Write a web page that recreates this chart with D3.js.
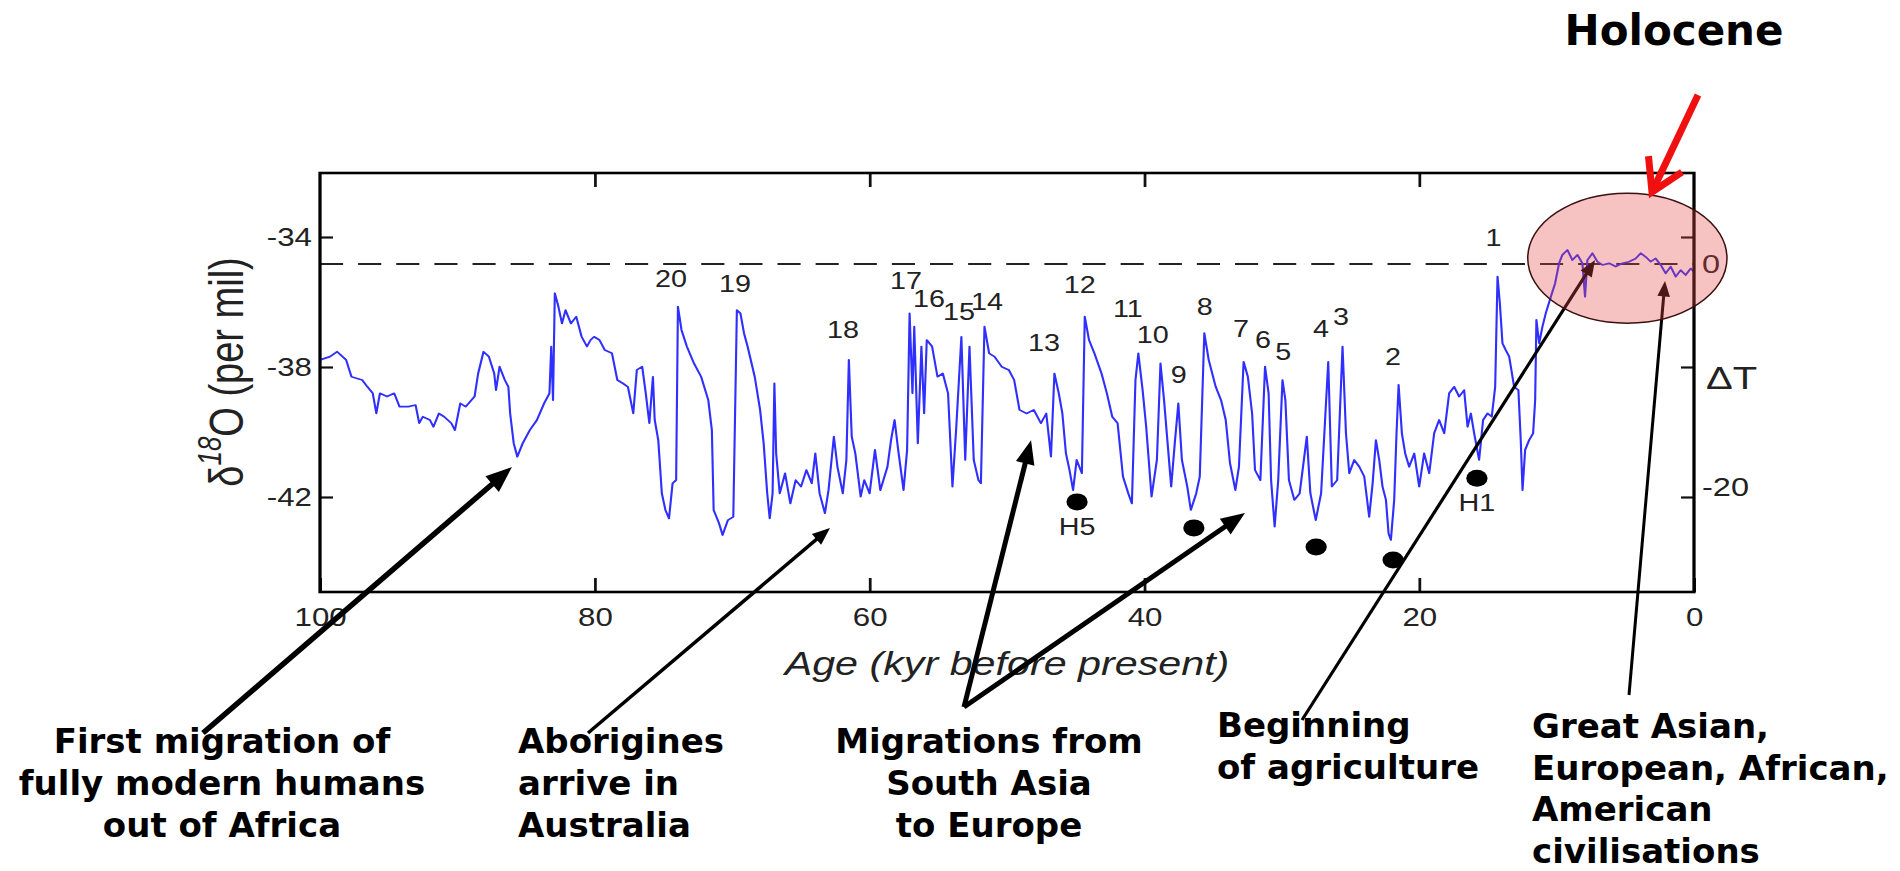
<!DOCTYPE html>
<html>
<head>
<meta charset="utf-8">
<script src="https://cdn.jsdelivr.net/npm/d3@7"></script>
<style>
  body { margin: 0; background: #fff; }
  svg { display: block; }
  .chart text { font-family: "Liberation Sans", Arial, Helvetica, sans-serif; fill: #222; }
  .note { font-family: "DejaVu Sans", Verdana, sans-serif; font-weight: bold; font-size: 34px; fill: #000; }
</style>
</head>
<body>
<script>
// ice core record (age in kyr before present, d18O per mil)
const ageKyr = [
  100.0, 99.27, 98.75, 98.10, 97.71, 96.93, 96.55, 96.16, 95.90, 95.64,
  95.12, 94.60, 94.21, 93.56, 93.04, 92.78, 92.52, 92.00, 91.74, 91.35,
  90.96, 90.44, 90.18, 89.79, 89.40, 88.75, 88.49, 88.10, 87.71, 87.32,
  87.19, 86.93, 86.55, 86.29, 86.16, 85.90, 85.64, 85.25, 84.73, 84.21,
  83.69, 83.30, 83.17, 83.04, 82.91, 82.65, 82.39, 82.13, 81.74, 81.35,
  80.96, 80.57, 80.31, 80.05, 79.66, 79.27, 78.75, 78.36, 77.97, 77.59,
  77.20, 76.94, 76.55, 76.29, 76.03, 75.77, 75.64, 75.38, 75.12, 74.86,
  74.60, 74.34, 74.08, 73.95, 73.69, 73.30, 72.78, 72.26, 71.74, 71.48,
  71.35, 70.96, 70.70, 70.31, 69.92, 69.66, 69.40, 69.14, 68.88, 68.36,
  67.97, 67.71, 67.45, 67.27, 67.06, 66.93, 66.80, 66.54, 66.15, 65.77,
  65.38, 64.99, 64.60, 64.21, 63.95,
  63.64, 63.25, 62.99, 62.60, 62.34, 61.95, 61.69, 61.51, 61.30, 61.04,
  60.65, 60.39, 60.00, 59.61, 59.22, 58.70, 58.44, 58.18, 57.92, 57.53,
  57.27, 57.09, 56.88, 56.75, 56.49, 56.23, 56.03, 55.84, 55.45, 55.06,
  54.67, 54.29, 53.97, 53.69, 53.32, 53.04, 52.73, 52.42, 52.08, 51.90,
  51.64, 51.30, 50.91, 50.39, 49.87, 49.48, 49.09, 48.57, 48.05, 47.53,
  47.14, 46.80, 46.55, 46.23, 45.97, 45.71, 45.45, 45.19, 44.93, 44.55,
  44.34, 44.03, 43.64, 43.12, 42.73, 42.34, 41.95, 41.56, 41.17, 40.91,
  40.65, 40.44, 40.13, 39.87, 39.48, 39.09, 38.83, 38.57, 38.31, 38.05,
  37.79, 37.53, 37.27, 36.88, 36.62, 36.23, 35.97, 35.64, 35.32, 34.81,
  34.42, 34.08, 33.77, 33.38, 33.12, 32.78, 32.47, 32.16, 31.95, 31.56,
  31.22, 30.96, 30.78, 30.52, 30.26, 29.95, 29.74, 29.48, 29.09, 28.70,
  28.18, 27.92, 27.53, 27.14, 26.62, 26.36, 25.97, 25.58,
  25.33, 25.09, 24.73, 24.36, 24.00, 23.64, 23.39, 23.15, 22.91, 22.67,
  22.42, 22.23, 22.06, 21.82, 21.65, 21.50, 21.26, 21.02, 20.73, 20.36,
  20.00, 19.64, 19.27, 18.91, 18.55, 18.18, 17.82, 17.45, 17.09, 16.73,
  16.48, 16.24, 16.00, 15.64, 15.35, 15.03, 14.72, 14.47, 14.30, 14.13,
  13.94, 13.70, 13.45, 13.09, 12.78, 12.61, 12.48, 12.29, 12.00, 11.71,
  11.56, 11.47, 11.27, 11.03, 10.79, 10.42, 10.11, 9.82, 9.58, 9.21,
  8.85, 8.48, 8.12, 7.93, 7.76, 7.39, 7.03, 6.67, 6.18, 5.70,
  5.21, 4.73, 4.24, 3.88, 3.52, 3.15, 2.79, 2.42, 2.06, 1.70,
  1.33, 0.97, 0.61, 0.24, 0.00
];
const d18O = [
  -37.78, -37.68, -37.53, -37.78, -38.30, -38.40, -38.61, -38.81, -39.43, -38.81,
  -38.91, -38.81, -39.22, -39.22, -39.17, -39.73, -39.53, -39.63, -39.84, -39.43,
  -39.53, -39.73, -39.94, -39.12, -39.22, -38.91, -38.20, -37.53, -37.68, -38.20,
  -38.71, -37.99, -38.40, -38.61, -39.43, -40.35, -40.76, -40.35, -39.94, -39.63,
  -39.12, -38.81, -37.37, -39.02, -35.73, -36.14, -36.66, -36.25, -36.66, -36.45,
  -37.07, -37.37, -37.17, -37.07, -37.17, -37.48, -37.58, -38.40, -38.50, -38.61,
  -39.43, -38.09, -37.99, -38.81, -39.73, -38.30, -39.63, -40.25, -41.89, -42.40,
  -42.66, -41.58, -41.48, -36.14, -36.86, -37.37, -37.89, -38.30, -39.02, -39.94,
  -42.40, -42.81, -43.17, -42.71, -42.61, -36.25, -36.35, -36.96, -37.37, -38.30,
  -39.32, -40.35, -41.89, -42.66, -41.89, -38.50, -40.66, -41.89, -41.27, -42.20,
  -41.48, -41.68, -41.17, -41.58, -40.66,
  -41.89, -42.50, -41.79, -40.14, -41.07, -41.89, -40.86, -37.78, -40.14, -40.66,
  -41.99, -41.48, -41.89, -40.55, -41.79, -41.07, -40.25, -39.63, -40.55, -41.79,
  -40.55, -36.35, -38.81, -36.76, -40.35, -37.37, -39.43, -37.17, -37.37, -38.30,
  -38.20, -38.81, -41.68, -39.84, -37.07, -40.86, -37.37, -40.86, -41.48, -41.58,
  -36.76, -37.58, -37.68, -37.99, -38.09, -38.40, -39.32, -39.43, -39.32, -39.73,
  -39.43, -40.76, -38.20, -38.81, -39.43, -40.66, -41.17, -41.79, -40.86, -41.27,
  -36.45, -37.17, -37.58, -38.20, -38.81, -39.53, -39.73, -41.37, -41.89, -42.20,
  -38.40, -37.58, -38.71, -39.84, -41.99, -40.86, -37.89, -39.02, -40.35, -41.68,
  -40.35, -39.12, -40.86, -41.68, -42.40, -41.89, -41.37, -36.96, -37.78, -38.61,
  -39.02, -39.63, -40.96, -41.79, -41.07, -37.84, -38.30, -39.43, -41.17, -41.48,
  -37.99, -38.81, -41.48, -42.91, -41.48, -38.40, -39.02, -41.48, -42.09, -41.89,
  -40.14, -41.89, -42.71, -41.89, -37.84, -41.68, -41.48, -37.37,
  -40.04, -41.27, -40.86, -41.07, -41.37, -42.61, -41.58, -40.25, -40.86, -41.68,
  -42.09, -43.12, -43.32, -42.09, -40.04, -38.55, -40.04, -40.66, -41.07, -40.66,
  -41.68, -40.66, -41.27, -40.04, -39.63, -40.04, -38.81, -38.61, -38.91, -38.71,
  -39.84, -39.43, -40.04, -40.86, -39.63, -39.43, -39.53, -38.61, -35.22, -36.04,
  -37.27, -37.48, -37.68, -38.61, -38.71, -40.25, -41.79, -40.55, -40.25, -40.04,
  -39.02, -36.55, -37.27, -36.76, -36.35, -35.84, -35.43, -34.81, -34.55, -34.40,
  -34.71, -34.55, -34.81, -35.84, -34.71, -34.50, -34.76, -34.86, -34.81, -34.91,
  -34.81, -34.76, -34.66, -34.50, -34.61, -34.76, -34.66, -34.86, -35.12, -34.91,
  -35.22, -35.02, -35.17, -34.97, -35.07
];

// interstadial numbers (label position in age / d18O)
const doNames  = ["20","19","18","17","16","15","14","13","12","11","10","9","8","7","6","5","4","3","2","1"];
const doAges   = [74.45, 69.8, 61.94, 57.35, 55.68, 53.5, 51.46, 47.3, 44.7, 41.2, 39.4, 37.5, 35.6, 32.97, 31.37, 29.9, 27.15, 25.7, 21.9, 14.6];
const doLevels = [-35.54, -35.69, -37.11, -35.6, -36.15, -36.55, -36.25, -37.5, -35.72, -36.46, -37.26, -38.49, -36.4, -37.08, -37.42, -37.78, -37.08, -36.71, -37.94, -34.28];

// Heinrich events
const hNames  = ["H5", "", "", "", "H1"];
const hAges   = [44.9, 36.4, 27.5, 21.9, 15.8];
const hLevels = [-42.15, -42.95, -43.54, -43.94, -41.42];

const ageTicks = [100, 80, 60, 40, 20, 0];
const d18Ticks = [-34, -38, -42];
const tempTicks = [0, -20];
const tempLevels = [-34.83, -41.69];   // d18O matching those dT ticks
const holoceneLevel = -34.83;          // dashed line, dT = 0

// holocene highlight (age span, d18O span)
const holoAges = [12.1, -2.4];
const holoLevels = [-32.65, -36.65];

// arrow targets on the record
const arrowAges   = [86.03, 62.88, 48.25, 32.68, 7.2, 2.11];
const arrowLevels = [-41.08, -42.95, -40.25, -42.49, -34.71, -35.35];

const noteLines = [
  ["First migration of", "fully modern humans", "out of Africa"],
  ["Aborigines", "arrive in", "Australia"],
  ["Migrations from", "South Asia", "to Europe"],
  ["Beginning", "of agriculture"],
  ["Great Asian,", "European, African,", "American", "civilisations"]
];

// ---- layout ----
const W = 1900, H = 871;
const SX = 1.25;   // the figure is stretched sideways
const frame = { left: 320, right: 1694, top: 173, bottom: 592 };
const noteLayout = [
  { x: 222, y: 753, anchor: "middle", lh: 42 },
  { x: 518, y: 753, anchor: "start", lh: 42 },
  { x: 989, y: 753, anchor: "middle", lh: 42 },
  { x: 1217, y: 737, anchor: "start", lh: 42 },
  { x: 1532, y: 738, anchor: "start", lh: 41.5 }
];
const arrowFrom = [[203, 733], [588, 733], [964, 707], [964, 707], [1302, 720], [1629, 695]];
const arrowWidth = [5.5, 3.5, 5, 5, 3.2, 3];

const svg = d3.select("body").append("svg")
  .attr("width", W).attr("height", H)
  .style("background", "#fff");

const x = d3.scaleLinear().domain([100, 0]).range([frame.left / SX, frame.right / SX]);
const y = d3.scaleLinear().domain([-34, -42]).range([237, 497]);
const t = d3.scaleLinear().domain(tempTicks).range(tempLevels.map(y));
const sx = a => x(a) * SX;
const plain = d => String(d);   // keep the ascii hyphen as in the source

const g = svg.append("g").attr("class", "chart").attr("transform", `scale(${SX},1)`);

function styleAxis(sel, size) {
  sel.select(".domain").remove();
  sel.selectAll(".tick line").attr("stroke", "#111").attr("stroke-width", 2.2);
  sel.selectAll(".tick text").attr("font-size", size).attr("font-family", null).attr("fill", "#222");
  sel.attr("font-family", null);
}

g.append("g").attr("transform", `translate(0,${frame.bottom})`)
  .call(d3.axisBottom(x).tickValues(ageTicks).tickSize(-14).tickPadding(16).tickFormat(plain))
  .call(s => styleAxis(s, 25));
g.append("g").attr("transform", `translate(0,${frame.top})`)
  .call(d3.axisTop(x).tickValues(ageTicks.slice(1, -1)).tickSize(-14).tickFormat(""))
  .call(s => styleAxis(s, 25));
g.append("g").attr("transform", `translate(${x(100)},0)`)
  .call(d3.axisLeft(y).tickValues(d18Ticks).tickSize(-10.4).tickPadding(6.4).tickFormat(plain))
  .call(s => styleAxis(s, 25));
g.append("g").attr("transform", `translate(${x(0)},0)`)
  .call(d3.axisRight(y).tickValues(d18Ticks).tickSize(-10.4).tickFormat(""))
  .call(s => styleAxis(s, 25));
g.append("g").attr("transform", `translate(${x(0)},0)`)
  .call(d3.axisRight(t).tickValues(tempTicks).tickSize(0).tickPadding(6.4).tickFormat(plain))
  .call(s => styleAxis(s, 26));

g.append("text")
  .attr("x", x(0) + 12 / SX).attr("y", t(-10.2))
  .attr("dominant-baseline", "central")
  .attr("font-size", 32)
  .text("ΔT");

// dashed reference line
g.append("line")
  .attr("x1", x(100)).attr("x2", x(0))
  .attr("y1", y(holoceneLevel)).attr("y2", y(holoceneLevel))
  .attr("stroke", "#222").attr("stroke-width", 2)
  .attr("stroke-dasharray", "18.5 12");

// record
const line = d3.line().x(d => x(d[0])).y(d => y(d[1]));
g.append("path")
  .datum(d3.zip(ageKyr, d18O))
  .attr("d", line)
  .attr("fill", "none")
  .attr("stroke", "#2f2fff")
  .attr("stroke-width", 1.7)
  .attr("stroke-linejoin", "round");

// frame
g.append("rect")
  .attr("x", x(100)).attr("y", frame.top)
  .attr("width", x(0) - x(100)).attr("height", frame.bottom - frame.top)
  .attr("fill", "none").attr("stroke", "#000").attr("stroke-width", 2.6);

// numbers
g.selectAll(".do").data(doNames).join("text")
  .attr("class", "do")
  .attr("x", (d, i) => x(doAges[i])).attr("y", (d, i) => y(doLevels[i]))
  .attr("text-anchor", "middle").attr("font-size", 23)
  .text(d => d);

g.selectAll(".hdot").data(hNames).join("circle")
  .attr("class", "hdot")
  .attr("cx", (d, i) => x(hAges[i])).attr("cy", (d, i) => y(hLevels[i]))
  .attr("r", 8.5).attr("fill", "#000");
g.selectAll(".hname").data(hNames).join("text")
  .attr("class", "hname")
  .attr("x", (d, i) => x(hAges[i])).attr("y", (d, i) => y(hLevels[i]) + 33)
  .attr("text-anchor", "middle").attr("font-size", 23).attr("fill", "#333")
  .text(d => d);

// axis titles
g.append("text")
  .attr("x", x(50)).attr("y", 675)
  .attr("text-anchor", "middle")
  .attr("font-size", 33).attr("font-style", "italic").attr("fill", "#333")
  .text("Age (kyr before present)");

const yl = g.append("text")
  .attr("transform", `translate(${226 / SX},372) rotate(-90)`)
  .attr("text-anchor", "middle").attr("dominant-baseline", "central")
  .attr("font-size", 38).attr("fill", "#333");
yl.append("tspan").text("δ");
yl.append("tspan").attr("font-size", 26).attr("font-style", "italic").attr("dy", -14).text("18");
yl.append("tspan").attr("dy", 14).text("O (per mil)");

// ---- slide annotations (screen space) ----
const ann = svg.append("g");
arrowFrom.forEach((s, i) => {
  const tip = [sx(arrowAges[i]), y(arrowLevels[i])];
  const w = arrowWidth[i];
  const dx = tip[0] - s[0], dy = tip[1] - s[1];
  const len = Math.hypot(dx, dy);
  const ux = dx / len, uy = dy / len;
  const L = 4.2 * w + 3, hw = 1.6 * w + 1.5;
  const bx = tip[0] - ux * L, by = tip[1] - uy * L;
  ann.append("line")
    .attr("x1", s[0]).attr("y1", s[1])
    .attr("x2", bx + ux).attr("y2", by + uy)
    .attr("stroke", "#000").attr("stroke-width", w);
  ann.append("path")
    .attr("d", `M${tip[0]},${tip[1]}L${bx - uy * hw},${by + ux * hw}L${bx + uy * hw},${by - ux * hw}Z`)
    .attr("fill", "#000");
});

// holocene highlight over the record
ann.append("ellipse")
  .attr("cx", (sx(holoAges[0]) + sx(holoAges[1])) / 2)
  .attr("cy", (y(holoLevels[0]) + y(holoLevels[1])) / 2)
  .attr("rx", (sx(holoAges[1]) - sx(holoAges[0])) / 2)
  .attr("ry", (y(holoLevels[1]) - y(holoLevels[0])) / 2)
  .attr("fill", "rgb(232,70,70)").attr("fill-opacity", 0.33)
  .attr("stroke", "#3a1010").attr("stroke-width", 1.5);

// red arrow
const redFrom = [1698, 95], redTip = [1652, 192], wing = 36, spread = 31 * Math.PI / 180;
const back = Math.atan2(redFrom[1] - redTip[1], redFrom[0] - redTip[0]);
ann.append("line")
  .attr("x1", redFrom[0]).attr("y1", redFrom[1])
  .attr("x2", redTip[0]).attr("y2", redTip[1])
  .attr("stroke", "#f01010").attr("stroke-width", 7);
ann.append("path")
  .attr("d", `M${redTip[0] + wing * Math.cos(back - spread)},${redTip[1] + wing * Math.sin(back - spread)}` +
             `L${redTip[0]},${redTip[1]}` +
             `L${redTip[0] + wing * Math.cos(back + spread)},${redTip[1] + wing * Math.sin(back + spread)}`)
  .attr("fill", "none").attr("stroke", "#f01010").attr("stroke-width", 7)
  .attr("stroke-linejoin", "miter");

ann.append("text").attr("class", "note")
  .attr("x", 1674).attr("y", 45).attr("text-anchor", "middle")
  .style("font-size", "42px")
  .text("Holocene");

noteLines.forEach((lines, i) => {
  const L = noteLayout[i];
  const txt = ann.append("text").attr("class", "note")
    .attr("text-anchor", L.anchor);
  lines.forEach((s, j) => {
    txt.append("tspan").attr("x", L.x).attr("y", L.y + j * L.lh).text(s);
  });
});
</script>
</body>
</html>
